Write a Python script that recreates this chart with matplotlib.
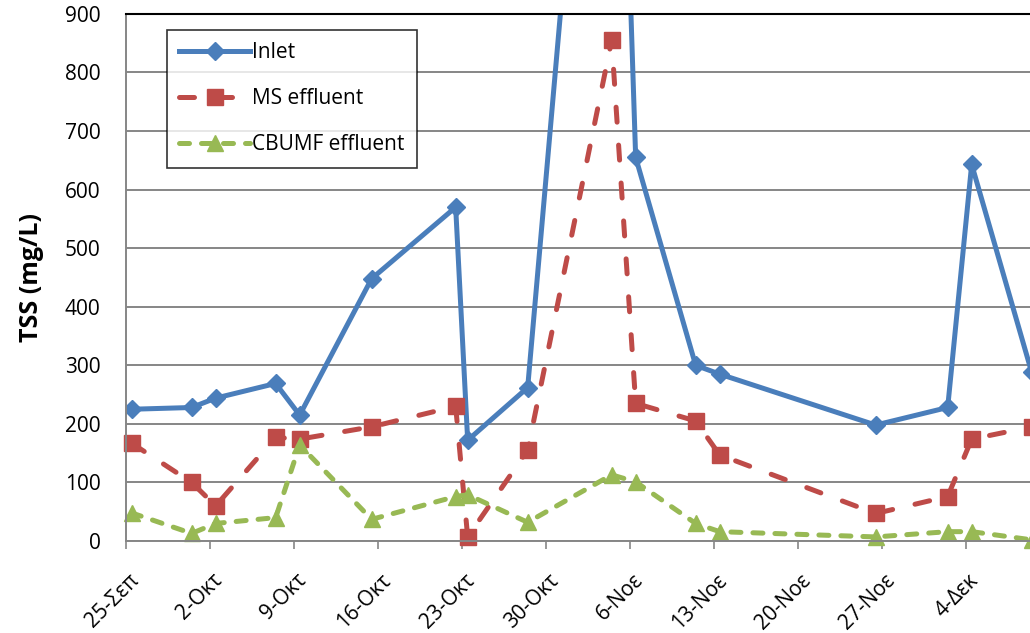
import numpy as np
import pandas as pd
from matplotlib import pyplot as plt
from matplotlib.transforms import ScaledTranslation

# sampling dates and TSS values (mg/L)
dates = ["2013-09-25", "2013-09-30", "2013-10-02", "2013-10-07", "2013-10-09",
         "2013-10-15", "2013-10-22", "2013-10-23", "2013-10-28", "2013-11-04",
         "2013-11-06", "2013-11-11", "2013-11-13", "2013-11-26", "2013-12-02",
         "2013-12-04", "2013-12-09"]
inlet = [225, 228, 244, 269, 215, 448, 570, 172, 262, 1900, 655, 300, 285,
         198, 228, 643, 288]
ms_eff = [167, 100, 60, 177, 174, 195, 230, 7, 155, 855, 235, 205, 147,
          47, 76, 174, 195]
cbumf_eff = [48, 13, 30, 40, 164, 37, 76, 79, 32, 113, 101, 30, 16,
             7, 16, 16, 2]

tick_labels = ["25-Σεπ", "2-Οκτ", "9-Οκτ", "16-Οκτ", "23-Οκτ", "30-Οκτ",
               "6-Νοε", "13-Νοε", "20-Νοε", "27-Νοε", "4-Δεκ"]

plt.rcParams['font.family'] = ['Open Sans', 'DejaVu Sans']

start = pd.Timestamp("2013-09-25")
days = np.array([(pd.Timestamp(d) - start).days for d in dates]) + 0.5

fig = plt.figure(figsize=(10.30, 6.33), dpi=100)
ax = fig.add_axes([0.122, 0.1453, 0.878, 0.8327])

ax.plot(days, inlet, '-', color='#4A7EBB', lw=3.6, marker='D', ms=9.5,
        label='Inlet', clip_on=True)
ax.plot(days, ms_eff, '--', color='#BE4B48', lw=3.6, marker='s', ms=12,
        dashes=(3.0, 4.6), dash_capstyle='round', label='MS effluent',
        clip_on=False)
ax.plot(days, cbumf_eff, '--', color='#98B954', lw=3.6, marker='^', ms=12,
        dashes=(2.0, 2.4), dash_capstyle='round', label='CBUMF effluent',
        clip_on=False)

ax.set_xlim(0, 75.36)
ax.set_ylim(0, 900)
ax.set_xticks(np.arange(len(tick_labels)) * 7)
ax.set_xticklabels(tick_labels, rotation=45, ha='right', va='center',
                   rotation_mode='anchor', fontsize=15)
ax.set_yticks(np.arange(0, 901, 100))
ax.tick_params(axis='y', labelsize=15, length=0, pad=18)
ax.tick_params(axis='x', length=6, width=1.2, color='#868686', pad=20)
for lbl in ax.get_xticklabels():
    lbl.set_transform(lbl.get_transform() +
                      ScaledTranslation(10 / 100, 0, fig.dpi_scale_trans))

ax.grid(axis='y', color='#868686', lw=1.4)
ax.set_axisbelow(True)
ax.spines['right'].set_visible(False)
ax.spines['top'].set_color('black')
ax.spines['top'].set_linewidth(1.5)
ax.spines['left'].set_color('#868686')
ax.spines['bottom'].set_color('#868686')
ax.spines['left'].set_linewidth(1.4)
ax.spines['bottom'].set_linewidth(1.4)

ax.set_ylabel('TSS (mg/L)', fontsize=18, fontweight='bold', labelpad=15)

leg = ax.legend(loc='upper left', bbox_to_anchor=(0.0457, 0.970), fontsize=15,
                frameon=True, fancybox=False, edgecolor='black',
                handlelength=3.4, borderpad=0.6, labelspacing=1.2,
                handletextpad=0.1, borderaxespad=0)
leg.get_frame().set_linewidth(1.2)

plt.savefig('out.png', dpi=100)
